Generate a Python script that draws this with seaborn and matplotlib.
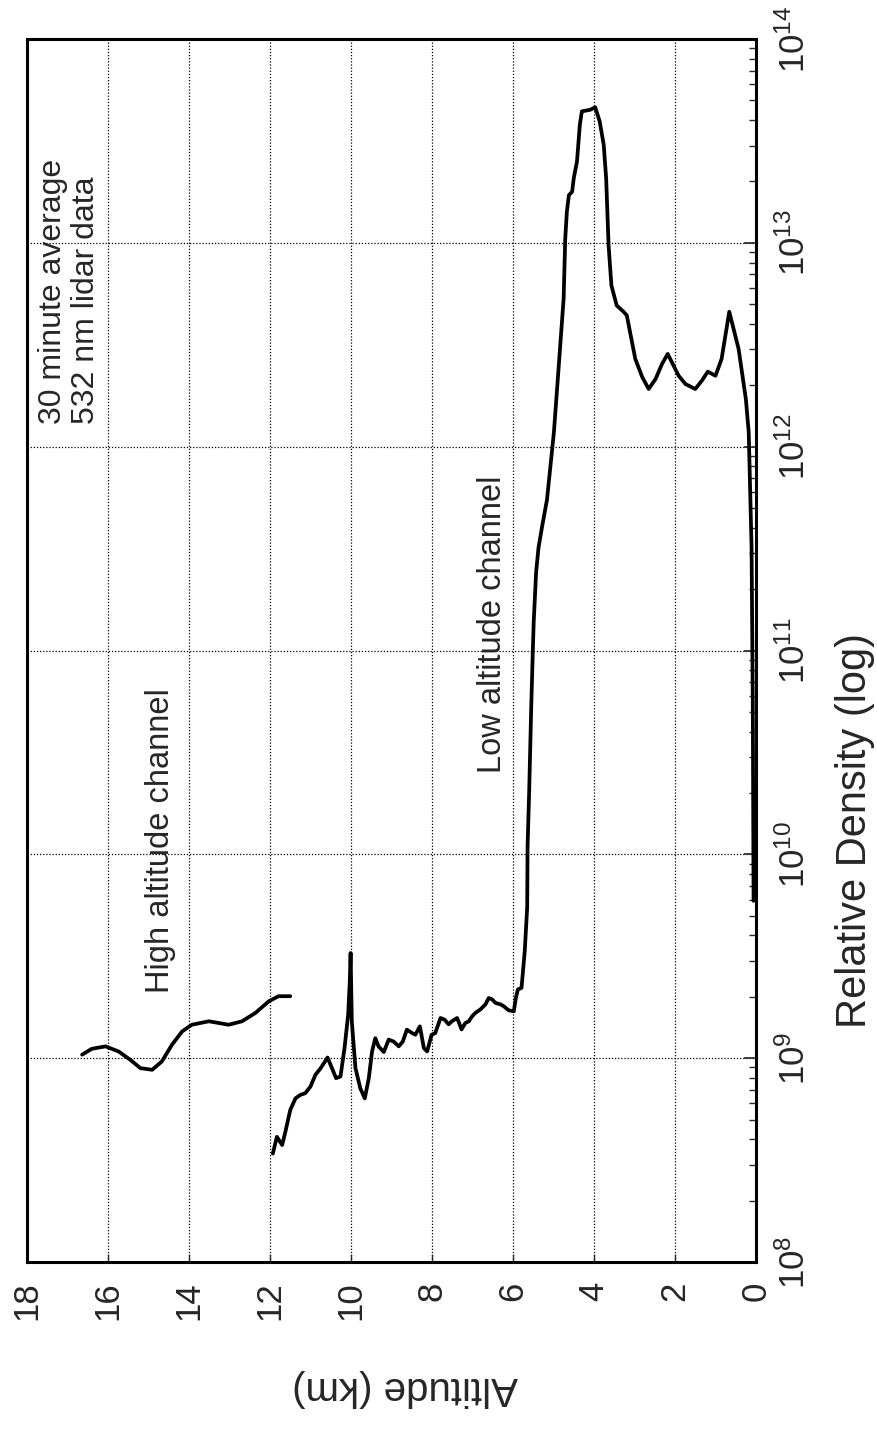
import numpy as np
import pandas as pd
import matplotlib
matplotlib.use("Agg")
import matplotlib.pyplot as plt
import seaborn as sns
from matplotlib.ticker import LogLocator, NullFormatter

sns.set_style("white")
plt.rcParams["font.family"] = ["Liberation Sans", "DejaVu Sans"]
plt.rcParams["mathtext.default"] = "regular"

# ---------------- data (altitude in km, density as log10 exponent) ----------------
high_alt_km = [16.64, 16.40, 16.06, 15.74, 15.45, 15.20, 14.91, 14.67, 14.42, 14.17,
               13.93, 13.51, 13.02, 12.69, 12.36, 12.03, 11.79, 11.50]
high_log_density = [9.017, 9.046, 9.058, 9.033, 8.992, 8.951, 8.943, 8.984, 9.066, 9.131,
                    9.164, 9.181, 9.164, 9.181, 9.222, 9.279, 9.304, 9.304]

low_alt_km = [11.93, 11.83, 11.70, 11.62, 11.50, 11.37, 11.25, 11.13, 11.00, 10.88,
              10.76, 10.67, 10.58, 10.47, 10.37, 10.26, 10.16, 10.07, 10.03, 10.01,
              9.98, 9.89, 9.77, 9.66, 9.56, 9.48, 9.40, 9.32, 9.19, 9.07,
              8.95, 8.82, 8.72, 8.62, 8.49, 8.41, 8.30, 8.20, 8.12, 8.01,
              7.92, 7.79, 7.69, 7.59, 7.51, 7.38, 7.27, 7.18, 7.09, 7.01,
              6.93, 6.80, 6.68, 6.60, 6.52, 6.43, 6.31, 6.23, 6.11, 5.98,
              5.93, 5.88, 5.79, 5.76, 5.71, 5.65, 5.64, 5.60, 5.55, 5.51,
              5.49, 5.43, 5.37, 5.28, 5.16, 4.99, 4.87, 4.75, 4.71, 4.67,
              4.62, 4.54, 4.50, 4.42, 4.35, 4.30, 4.09, 3.97, 3.86, 3.76,
              3.70, 3.64, 3.57, 3.44, 3.27, 3.19, 2.98, 2.81, 2.65, 2.48,
              2.32, 2.18, 1.91, 1.74, 1.50, 1.34, 1.19, 1.00, 0.85, 0.66,
              0.43, 0.25, 0.18, 0.11, 0.08, 0.06]
low_log_density = [8.532, 8.614, 8.574, 8.639, 8.746, 8.803, 8.820, 8.828, 8.861, 8.918,
                   8.948, 8.975, 9.003, 8.951, 8.902, 8.910, 9.049, 9.214, 9.378, 9.516,
                   9.181, 8.951, 8.852, 8.803, 8.902, 9.033, 9.098, 9.058, 9.030, 9.091,
                   9.082, 9.058, 9.082, 9.140, 9.123, 9.115, 9.156, 9.049, 9.033, 9.115,
                   9.123, 9.197, 9.189, 9.166, 9.181, 9.197, 9.141, 9.172, 9.181, 9.205,
                   9.222, 9.240, 9.264, 9.295, 9.289, 9.271, 9.264, 9.255, 9.235, 9.230,
                   9.295, 9.337, 9.345, 9.411, 9.525, 9.739, 10.042, 10.313, 10.723, 11.002,
                   11.135, 11.382, 11.505, 11.610, 11.741, 12.071, 12.397, 12.726, 13.021, 13.153,
                   13.234, 13.251, 13.317, 13.399, 13.579, 13.645, 13.653, 13.665, 13.596, 13.481,
                   13.317, 12.988, 12.791, 12.693, 12.662, 12.644, 12.430, 12.342, 12.283, 12.332,
                   12.406, 12.455, 12.348, 12.307, 12.283, 12.323, 12.368, 12.348, 12.430, 12.662,
                   12.480, 12.233, 12.071, 11.510, 10.756, 9.772]

alt_ticks = [18, 16, 14, 12, 10, 8, 6, 4, 2, 0]
density_decades = [8, 9, 10, 11, 12, 13, 14]

# ---------------- figure ----------------
fig = plt.figure(figsize=(8.78, 14.3), dpi=100)
ax = fig.add_axes([0.03075, 0.11748, 0.83030, 0.85524])
ax.set_yscale("log")

df_high = pd.DataFrame({"alt": high_alt_km, "density": 10 ** np.array(high_log_density)})
df_low = pd.DataFrame({"alt": low_alt_km, "density": 10 ** np.array(low_log_density)})

for df in (df_high, df_low):
    sns.lineplot(data=df, x="alt", y="density", sort=False, estimator=None,
                 color="black", linewidth=2.7, ax=ax, solid_joinstyle="round",
                 solid_capstyle="round", zorder=3)

ax.set_xlim(18, 0)
ax.set_ylim(1e8, 1e14)
ax.set_xticks(alt_ticks)
ax.set_xticklabels([str(t) for t in alt_ticks])
ax.yaxis.tick_right()
ax.set_yticks([10.0 ** d for d in density_decades])
ax.set_yticklabels([f"$10^{{{d}}}$" for d in density_decades])
ax.yaxis.set_minor_locator(LogLocator(base=10, subs=np.arange(2, 10), numticks=100))
ax.yaxis.set_minor_formatter(NullFormatter())
ax.set_xlabel("")
ax.set_ylabel("")

ax.tick_params(axis="x", which="major", direction="in", length=6, width=1,
               labelsize=25, pad=14, labelrotation=90, bottom=True, top=False)
ax.tick_params(axis="y", which="major", direction="in", length=9, width=1.2,
               labelsize=25, pad=15, labelrotation=90, right=True, left=False,
               labelright=True, labelleft=False)
ax.tick_params(axis="y", which="minor", direction="in", length=5, width=1,
               right=True, left=False)
for t in ax.yaxis.get_major_ticks():
    t.label2.set_va("center")

ax.grid(True, which="major", axis="both", color="black",
        linestyle=(0, (1, 1.5)), linewidth=0.9)
ax.grid(False, which="minor")

for s in ax.spines.values():
    s.set_visible(True)
    s.set_color("black")
    s.set_linewidth(2.2)

# annotations
ax.text(16.95, 10 ** 12.11, "30 minute average\n532 nm lidar data", rotation=90,
        ha="center", va="bottom", fontsize=23, multialignment="left",
        linespacing=1.1)
ax.text(14.70, 10 ** 9.32, "High altitude channel", rotation=90,
        ha="center", va="bottom", fontsize=23.5)
ax.text(6.50, 10 ** 10.40, "Low altitude channel", rotation=90,
        ha="center", va="bottom", fontsize=23.5)

# axis titles (rotated as in the reference)
fig.text(855 / 878, 1 - 831 / 1430, "Relative Density (log)", rotation=90,
         ha="center", va="center", fontsize=30)
fig.text(405 / 878, 1 - 1388 / 1430, "Altitude (km)", rotation=180,
         ha="center", va="center", fontsize=29)

fig.savefig("out.png", dpi=100)
